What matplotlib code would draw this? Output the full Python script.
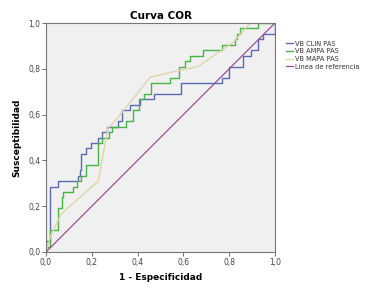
import matplotlib
matplotlib.use("Agg")
import matplotlib.pyplot as plt

# curva COR
clin_x = [0, 0, 0.017, 0.054, 0.141, 0.148, 0.155, 0.174, 0.195, 0.228, 0.246, 0.267,
          0.315, 0.334, 0.366, 0.41, 0.47, 0.59, 0.77, 0.80, 0.86, 0.897, 0.926, 0.948, 1.0]
clin_y = [0, 0.048, 0.286, 0.31, 0.333, 0.357, 0.429, 0.452, 0.476, 0.5, 0.524, 0.548,
          0.571, 0.619, 0.643, 0.667, 0.69, 0.738, 0.762, 0.81, 0.857, 0.881, 0.929, 0.952, 1.0]

ampa_x = [0, 0, 0.017, 0.054, 0.068, 0.075, 0.119, 0.137, 0.155, 0.174, 0.228, 0.245,
          0.275, 0.29, 0.35, 0.38, 0.405, 0.43, 0.46, 0.54, 0.581, 0.606, 0.631, 0.686,
          0.77, 0.824, 0.834, 0.846, 0.926, 1.0]
ampa_y = [0, 0.024, 0.095, 0.19, 0.238, 0.262, 0.286, 0.31, 0.333, 0.381, 0.476, 0.5,
          0.524, 0.548, 0.571, 0.619, 0.667, 0.69, 0.738, 0.762, 0.81, 0.833, 0.857, 0.881,
          0.905, 0.929, 0.952, 0.976, 1.0, 1.0]

mapa_x = [0, 0.02, 0.065, 0.228, 0.27, 0.30, 0.456, 0.584, 0.664, 0.77, 0.817, 0.892, 1.0]
mapa_y = [0, 0.07, 0.165, 0.31, 0.54, 0.57, 0.764, 0.793, 0.81, 0.883, 0.915, 1.0, 1.0]

ref_x = [0, 1]
ref_y = [0, 1]

ticks = [0, 0.2, 0.4, 0.6, 0.8, 1.0]
tick_labels = ["0,0", "0,2", "0,4", "0,6", "0,8", "1,0"]

fig = plt.figure(figsize=(3.79, 3.04), dpi=100)
ax = fig.add_axes([46 / 379, 52 / 304, 229 / 379, 229 / 304])
ax.set_facecolor("#f0f0f0")

l1, = ax.step(clin_x, clin_y, where="post", color="#5a6ab4", lw=1.0)
l2, = ax.step(ampa_x, ampa_y, where="post", color="#46b446", lw=1.0)
l3, = ax.plot(mapa_x, mapa_y, color="#e0d4a8", lw=1.0)
l4, = ax.plot(ref_x, ref_y, color="#9a4a9a", lw=0.9)

ax.set_xlim(0, 1)
ax.set_ylim(0, 1)
ax.set_xticks(ticks)
ax.set_xticklabels(tick_labels)
ax.set_yticks(ticks)
ax.set_yticklabels(tick_labels)
ax.tick_params(labelsize=5.5, length=3, width=0.6, color="#555555", pad=1, labelcolor="#444444")
for s in ax.spines.values():
    s.set_color("#777777")
    s.set_linewidth(0.8)

ax.set_title("Curva COR", fontsize=7.5, fontweight="bold", pad=3)
ax.set_xlabel("1 - Especificidad", fontsize=6.5, fontweight="bold", labelpad=5)
ax.set_ylabel("Susceptibilidad", fontsize=6.5, fontweight="bold", labelpad=5)

leg = fig.legend([l1, l2, l3, l4],
                 ["VB CLIN PAS", "VB AMPA PAS", "VB MAPA PAS", "Línea de referencia"],
                 loc="upper left", bbox_to_anchor=(283 / 379, 1 - 38 / 304),
                 frameon=False, fontsize=4.8, handlelength=1.1, handletextpad=0.25,
                 labelspacing=0.25, borderaxespad=0)
for t in leg.get_texts():
    t.set_color("#333333")

fig.savefig("out.png", dpi=100)
